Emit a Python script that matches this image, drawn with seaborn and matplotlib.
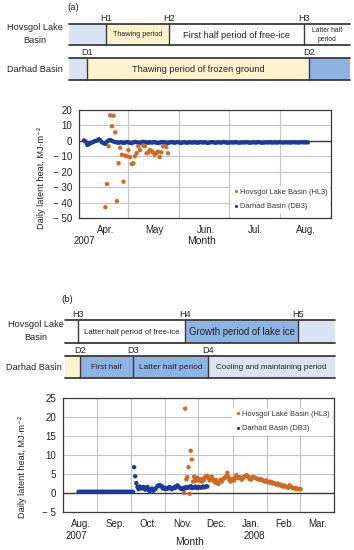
import pandas as pd
import seaborn as sns
import matplotlib.pyplot as plt
from matplotlib.patches import Rectangle
from matplotlib.lines import Line2D

HL3 = 'Hovsgol Lake Basin (HL3)'
DB3 = 'Darhad Basin (DB3)'

# ---------------- panel (a): spring - summer 2007 ----------------
a_origin = '2007-04-01'
a_hl3_days = [16, 17, 18, 19, 20, 21, 22, 23, 24, 25, 26, 27, 28, 29, 30, 31,
              32, 33, 34, 35, 36, 37, 39, 40, 41, 42, 43, 44, 45, 46, 47, 48,
              49, 50, 51, 53, 54]
a_hl3_values = [-43, -28, -3.5, 16.5, 9.5, 16.3, 5.5, -39, -14.5, -4.5, -9,
                -26.5, -9.5, -10, -6, -10.5, -15, -14.5, -10, -8, -3.5, -6, -3,
                -3.5, -8, -7.5, -6, -6.5, -7.5, -9, -8, -7, -10.5, -7.5, -3.5,
                -4, -8]
a_db3_first = '2007-04-04'
a_db3_values = [
    0.3, -0.5, -2.6, -2.2, -1.5, -1.0, -0.5, 0.0, 0.2, 1.0, 0.3, -1.0, -1.5,
    -2.0, -0.5, 0.3, 0.5, 0.0,
    -0.5, -0.8, -1.0, -1.2, -1.0, -0.9, -1.3, -1.1, -0.8, -1.0,
    -1.2, -1.4, -1.0, -0.7, -0.9, -1.1, -1.3, -1.0, -0.6, -0.8,
    -1.0, -1.2, -0.9, -1.1, -1.0, -0.7, -1.2, -1.4, -1.1, -0.9,
    -0.8, -1.0, -1.1, -1.3, -1.0, -0.8, -0.9, -1.2, -1.0, -0.7,
    -1.1, -1.3, -1.0, -0.9, -1.1, -1.2, -0.8, -1.0, -1.1, -0.9,
    -1.0, -1.2, -1.0, -0.8, -1.1, -0.9, -1.0, -1.3, -1.1, -0.9,
    -0.8, -1.0, -1.2, -1.0, -0.9, -1.1, -1.0, -0.7, -1.0, -1.2,
    -1.1, -0.9, -1.0, -1.1, -0.8, -1.0, -1.2, -1.1, -0.9, -1.0,
    -1.0, -0.8, -1.1, -1.2, -1.0, -0.9, -1.1, -1.0, -0.8, -1.0,
    -1.2, -1.1, -0.9, -1.0, -1.0, -0.8, -1.1, -1.0, -0.9, -1.1,
    -1.0, -0.8, -1.0, -1.1, -0.9, -1.0, -0.9, -1.1, -1.0, -0.8,
    -1.0, -0.9, -1.1, -1.0, -0.8, -0.9, -1.0, -0.9, -1.0]
a_months = ['Apr.', 'May', 'Jun.', 'Jul.', 'Aug.']
a_span = ('2007-04-01', '2007-09-01')

# ---------------- panel (b): autumn 2007 - winter 2008 ----------------
b_db3_first = '2007-08-15'
b_db3_values = [
    0.3, 0.3, 0.3, 0.3, 0.3, 0.3, 0.3, 0.3, 0.3, 0.3,
    0.3, 0.3, 0.3, 0.3, 0.3, 0.3, 0.3, 0.3, 0.3, 0.3,
    0.3, 0.3, 0.3, 0.3, 0.3, 0.3, 0.3, 0.3, 0.3, 0.3,
    0.3, 0.3, 0.3, 0.3, 0.3, 0.3, 0.3, 0.3, 0.3, 0.3,
    0.3, 0.3, 0.3, 0.3, 0.3, 0.3, 0.3, 0.3, 0.3, 0.3,
    6.8, 4.4, 2.6, 1.6, 1.0, 1.7, 1.3, 1.2, 1.6, 1.5,
    0.9, 1.2, 1.6, 0.8, 0.5, 1.0, 1.2, 0.6, 0.8, 1.0,
    1.4, 1.8, 2.0, 2.1, 1.7, 1.8, 1.2, 1.4, 1.0, 1.3,
    1.1, 1.4, 1.6, 1.2, 1.0, 1.3, 1.5, 1.3, 1.8, 2.0,
    1.7, 1.4, 1.2, 1.0, 1.3, 1.1, 1.5, 1.3, 1.6, 1.4,
    1.6, 1.8, 1.3, 1.5, 1.4, 1.7, 1.5, 1.3, 1.5, 1.6,
    1.4, 1.5, 1.7, 1.5, 1.6, 1.8, 1.7]
b_hl3_first = '2007-11-18'
b_hl3_values = [
    0.0, 22.2, 3.6, 4.2, 6.8, -0.2, 11.1, 8.8, 3.0, 4.3,
    3.8, 3.2, 4.0, 3.5, 3.3, 3.6, 3.0, 3.7, 3.4, 4.2,
    4.4, 4.5, 3.9, 3.3, 3.7, 4.3, 3.6, 3.1, 2.8, 3.4,
    2.6, 2.4, 2.9, 3.5, 3.0, 3.6, 3.9, 4.0, 4.4, 5.3,
    4.2, 3.4, 3.0, 3.6, 3.8, 3.3, 3.9, 4.7, 4.1, 3.9,
    4.2, 3.8, 3.5, 3.9, 4.3, 4.4, 4.7, 4.5, 4.1, 3.7,
    3.5, 3.9, 4.2, 4.1, 4.0, 3.9, 3.7, 3.6, 3.5, 3.7,
    3.4, 3.3, 3.2, 3.0, 3.3, 2.9, 2.8, 3.0, 2.7, 2.9,
    2.5, 2.6, 2.4, 2.2, 2.5, 2.3, 2.0, 2.2, 1.9, 1.7,
    2.0, 1.8, 1.5, 1.6, 1.4, 2.0, 1.7, 1.5, 1.3, 1.2,
    1.3, 1.1, 1.2, 1.0, 1.1, 1.0]
b_months = ['Aug.', 'Sep.', 'Oct.', 'Nov.', 'Dec.', 'Jan.', 'Feb.', 'Mar.']
b_span = ('2007-08-01', '2008-04-01')

# period bars above each chart: (basin, marks, period texts, fills)
a_rows = [
    ('Hovsgol Lake\nBasin', ['H1', 'H2', 'H3'],
     ['', 'Thawing period', 'First half period of free-ice', 'Latter half\nperiod'],
     ['#DAE3F3', '#FFF2CC', 'white', 'white']),
    ('Darhad Basin', ['D1', 'D2'],
     ['', 'Thawing period of frozen ground', ''],
     ['#DAE3F3', '#FFF2CC', '#8DB4E2']),
]
b_rows = [
    ('Hovsgol Lake\nBasin', ['H3', 'H4', 'H5'],
     ['', 'Latter half period of free-ice', 'Growth period of lake ice', ''],
     ['white', 'white', '#8DB4E2', '#DAE3F3']),
    ('Darhad Basin', ['D2', 'D3', 'D4'],
     ['', 'First half', 'Latter half period', 'Cooling and maintaining period'],
     ['#FFF2CC', '#8DB4E2', '#8DB4E2', '#DAE3F3']),
]

ORANGE = '#D2691E'
NAVY = '#1B3A9A'
DARK = '#3A3A3A'

# layout in figure pixels (354 x 550)
W, H = 354, 550
bar_layout = {
    'a': [dict(y=(24, 45), edges=[69, 106, 169, 304, 350], label_xy=(35, 34),
               sizes=[0, 5.2, 6.6, 4.9]),
          dict(y=(58, 80), edges=[69, 87, 309, 350], label_xy=(35, 70),
               sizes=[0, 6.6, 0])],
    'b': [dict(y=(320, 343), edges=[65, 78, 185, 298, 335], label_xy=(36, 331),
               sizes=[0, 5.6, 6.9, 0]),
          dict(y=(356, 378), edges=[65, 80, 133, 208, 335], label_xy=(34, 367),
               sizes=[0, 5.8, 6.0, 5.8])],
}


def to_frame(first, values, site):
    return pd.DataFrame({'date': pd.date_range(first, periods=len(values), freq='D'),
                         'heat': values, 'site': site})


def draw_bars(lay, rows, layout):
    for (basin, marks, texts, fills), spec in zip(rows, layout):
        top, bot = spec['y']
        edges = spec['edges']
        for i, fill in enumerate(fills):
            lay.add_patch(Rectangle((edges[i], top), edges[i + 1] - edges[i], bot - top,
                                    facecolor=fill, edgecolor='none', zorder=1))
            if texts[i]:
                lay.text((edges[i] + edges[i + 1]) / 2, (top + bot) / 2 + 0.5, texts[i],
                         ha='center', va='center', fontsize=spec['sizes'][i],
                         color='#222222', linespacing=1.5, zorder=3)
        lay.plot([edges[0], edges[-1]], [top, top], color=DARK, lw=1.3, zorder=2)
        lay.plot([edges[0], edges[-1]], [bot, bot], color=DARK, lw=1.3, zorder=2)
        for mark, x in zip(marks, edges[1:-1]):
            lay.plot([x, x], [top, bot], color=DARK, lw=1.0, zorder=2)
            lay.text(x, top - 0.8, mark, ha='center', va='bottom', fontsize=6.6,
                     color='#222222')
        lay.text(spec['label_xy'][0], spec['label_xy'][1], basin, ha='center',
                 va='center', fontsize=6.6, color='#222222', linespacing=1.55)


def spaced_minus(v, pos=None):
    # the original writes negative ticks as "− 10"
    return f'\u2212 {abs(int(v))}' if v < 0 else f'{int(v)}'


def draw_chart(ax, df, span, months, ylim, ystep):
    sns.scatterplot(data=df, x='date', y='heat', hue='site', hue_order=[HL3, DB3],
                    palette={HL3: ORANGE, DB3: NAVY}, s=10, linewidth=0,
                    legend=False, ax=ax, zorder=3)
    start, end = pd.Timestamp(span[0]), pd.Timestamp(span[1])
    ax.set_xlim(start, end)
    ax.set_ylim(*ylim)
    yt = list(range(ylim[0], ylim[1] + 1, ystep))
    ax.set_yticks(yt)
    ax.set_yticklabels([spaced_minus(v) for v in yt])
    starts = pd.date_range(start, end, freq='MS')
    ax.set_xticks(starts)
    ax.set_xticklabels([])
    ax.set_xticks(starts[:-1] + pd.Timedelta(days=16), minor=True)
    ax.set_xticklabels(months, minor=True)
    ax.grid(True, which='major', color='#C4C4C4', lw=0.8, zorder=0)
    ax.axhline(0, color=DARK, lw=1.0, zorder=2)
    ax.tick_params(axis='both', which='both', length=0, labelsize=7,
                   colors='#222222')
    ax.tick_params(axis='y', pad=5)
    ax.tick_params(axis='x', which='minor', pad=5)
    ax.set_xlabel('')
    ax.set_ylabel('')
    for sp in ax.spines.values():
        sp.set_color(DARK)
        sp.set_linewidth(0.9)


def add_legend(ax, fig, anchor):
    handles = [Line2D([], [], ls='', marker='o', markersize=2.3, color=c,
                      markeredgewidth=0) for c in (ORANGE, NAVY)]
    leg = ax.legend(handles, [HL3, DB3], loc='upper left',
                    bbox_to_anchor=(anchor[0] / W, 1 - anchor[1] / H),
                    bbox_transform=fig.transFigure, fontsize=5.4, frameon=True,
                    facecolor='white', edgecolor='none', framealpha=1,
                    handletextpad=0.1, handlelength=1.0, labelspacing=1.0,
                    borderpad=0.3, borderaxespad=0)
    for t in leg.get_texts():
        t.set_color('#333333')
    leg.set_zorder(5)


sns.set_style('white')
plt.rcParams['font.family'] = ['Liberation Sans', 'DejaVu Sans']

fig = plt.figure(figsize=(W / 100, H / 100), dpi=100)
lay = fig.add_axes([0, 0, 1, 1], zorder=0)
lay.set_xlim(0, W)
lay.set_ylim(H, 0)
lay.axis('off')

# ---- panel (a)
ax_a = fig.add_axes([79 / W, 1 - 218 / H, 252 / W, 108 / H], zorder=2)
a_hl3 = pd.DataFrame({'date': pd.Timestamp(a_origin) + pd.to_timedelta(a_hl3_days, unit='D'),
                      'heat': a_hl3_values, 'site': HL3})
df_a = pd.concat([to_frame(a_db3_first, a_db3_values, DB3), a_hl3], ignore_index=True)
draw_chart(ax_a, df_a, a_span, a_months, (-50, 20), 10)
add_legend(ax_a, fig, (230, 186))

# ---- panel (b)
ax_b = fig.add_axes([63 / W, 1 - 512 / H, 271 / W, 114 / H], zorder=2)
df_b = pd.concat([to_frame(b_db3_first, b_db3_values, DB3),
                  to_frame(b_hl3_first, b_hl3_values, HL3)], ignore_index=True)
draw_chart(ax_b, df_b, b_span, b_months, (-5, 25), 5)
add_legend(ax_b, fig, (232, 408))

# ---- period bars and free text
draw_bars(lay, a_rows, bar_layout['a'])
draw_bars(lay, b_rows, bar_layout['b'])
txt = dict(color='#222222', ha='center', va='center')
lay.text(73, 8, '(a)', fontsize=6.8, **txt)
lay.text(67, 300, '(b)', fontsize=6.8, **txt)
ylab = 'Daily latent heat, MJ·m⁻²'
lay.text(42, 178, ylab, rotation=90, fontsize=6.6, **txt)
lay.text(23, 467, ylab, rotation=90, fontsize=6.6, **txt)
lay.text(84, 241, '2007', fontsize=7, **txt)
lay.text(202, 241, 'Month', fontsize=7.5, **txt)
lay.text(76, 536, '2007', fontsize=7, **txt)
lay.text(254, 536, '2008', fontsize=7, **txt)
lay.text(189, 542, 'Month', fontsize=7.5, **txt)

fig.savefig('out.png', dpi=100)
